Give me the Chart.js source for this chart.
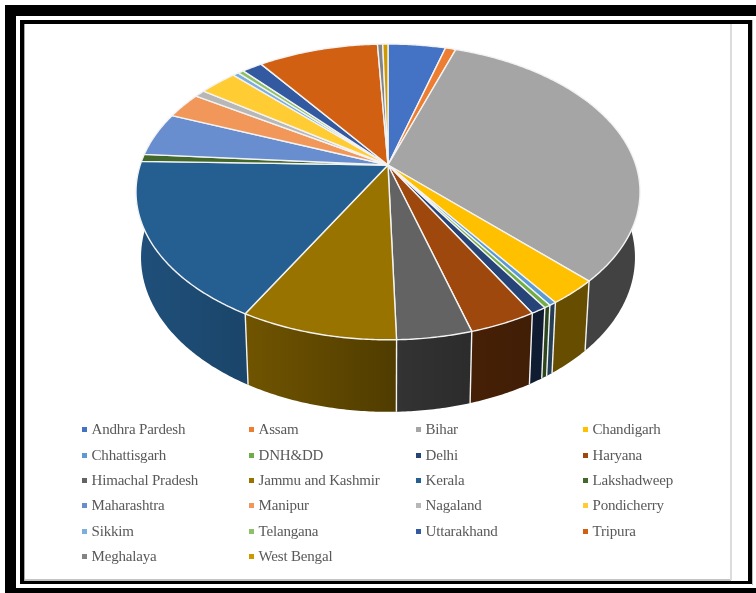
<!DOCTYPE html>
<html>
<head>
<meta charset="utf-8">
<style>
  html, body { margin: 0; padding: 0; background: #fff; width: 756px; height: 593px; overflow: hidden; }
  .bar { position: absolute; }
  canvas { position: absolute; left: 0; top: 0; display: block; }
</style>
<script src="https://cdn.jsdelivr.net/npm/chart.js@4/dist/chart.umd.min.js"></script>
</head>
<body>
<!-- outer and inner page frames -->
<div class="bar" style="left:5px;top:5px;width:751px;height:11px;background:#000"></div>
<div class="bar" style="left:5px;top:5px;width:11px;height:588px;background:#000"></div>
<div class="bar" style="left:5px;top:588px;width:751px;height:5px;background:#000"></div>
<div class="bar" style="left:20px;top:20px;width:732px;height:4px;background:#000"></div>
<div class="bar" style="left:20px;top:20px;width:4px;height:564px;background:#000"></div>
<div class="bar" style="left:20px;top:581px;width:732px;height:3px;background:#000"></div>
<div class="bar" style="left:748px;top:20px;width:4px;height:564px;background:#000"></div>
<div class="bar" style="left:752px;top:20px;width:1px;height:565px;background:#bdbdbd"></div>
<div class="bar" style="left:24px;top:24px;width:1px;height:557px;background:#a8a8a8"></div>
<div class="bar" style="left:25px;top:579px;width:706px;height:2px;background:#c4c4c4"></div>
<div class="bar" style="left:730px;top:24px;width:1.5px;height:556px;background:#dcdcdc"></div>
<canvas id="pie" width="756" height="593"></canvas>
<script>
const categories = [
  'Andhra Pardesh', 'Assam', 'Bihar', 'Chandigarh',
  'Chhattisgarh', 'DNH&DD', 'Delhi', 'Haryana',
  'Himachal Pradesh', 'Jammu and Kashmir', 'Kerala', 'Lakshadweep',
  'Maharashtra', 'Manipur', 'Nagaland', 'Pondicherry',
  'Sikkim', 'Telangana', 'Uttarakhand', 'Tripura',
  'Meghalaya', 'West Bengal'
];
const shares = [
  4.4, 0.8, 32.3, 2.75,
  0.4, 0.35, 0.85, 3.65,
  4.05, 8.5, 17.35, 0.8,
  4.8, 2.85, 0.8, 2.9,
  0.45, 0.45, 1.55, 9.2,
  0.4, 0.4
];
const sliceColours = [
  '#4472C4', '#ED7D31', '#A5A5A5', '#FFC000',
  '#5B9BD5', '#70AD47', '#264478', '#9E480E',
  '#636363', '#997300', '#255E91', '#43682B',
  '#698ED0', '#F1975A', '#B7B7B7', '#FFCD33',
  '#7CAFDD', '#8CC168', '#335AA1', '#D26012',
  '#848484', '#CC9A00'
];

// Tilted-disc projection of the pie
const DISC_R = 247.8, DISC_H = 143, PERSPECTIVE = 0.182;
const WALL_X_SCALE = 0.98, WALL_BASE = 64, WALL_SLOPE = 8;
const EDGE = '#f3f3f3';

// Legend grid
const LEGEND_COL_X = [82, 249, 416, 583];
const LEGEND_ROW_Y = [429, 455, 480, 505, 531, 556];
const LEGEND_FONT = '15px "Liberation Serif"';
const LEGEND_TRACKING = '-0.18px';

// Wall brightness across the width of the pie: [position, factor]
const WALL_SHADE = [[0, .85], [.217, .73], [.516, .52], [.66, .44], [.82, .40], [1, .40]];

function topPoint(cx, cy, a) {
  const u = Math.sin(a), v = -Math.cos(a), d = 1 - PERSPECTIVE * v;
  return { x: cx + DISC_R * u / d, y: cy + DISC_H * v / d, v };
}
function basePoint(cx, cy, a) {
  const p = topPoint(cx, cy, a);
  return { x: cx + (p.x - cx) * WALL_X_SCALE, y: p.y + WALL_BASE + WALL_SLOPE * p.v };
}
function shaded(hex, f) {
  const n = parseInt(hex.slice(1), 16);
  const c = [n >> 16 & 255, n >> 8 & 255, n & 255].map(ch => Math.round(ch * f));
  return `rgb(${c[0]},${c[1]},${c[2]})`;
}
function arcSamples(a0, a1) {
  const n = Math.max(2, Math.ceil(Math.abs(a1 - a0) / 0.01));
  return Array.from({ length: n + 1 }, (_, i) => a0 + (a1 - a0) * i / n);
}

const pie3d = {
  id: 'pie3d',
  // The arcs are laid out by the pie controller and painted here in projection.
  beforeDatasetsDraw(chart) {
    const ctx = chart.ctx;
    const arcs = chart.getDatasetMeta(0).data;
    const cx = arcs[0].x, cy = arcs[0].y;
    const frontA = Math.PI / 2, frontB = Math.PI * 1.5;

    ctx.save();
    ctx.lineJoin = 'round';

    // Side walls on the near half of the disc
    arcs.forEach((arc, i) => {
      const s = arc.startAngle + Math.PI / 2, e = arc.endAngle + Math.PI / 2;
      const a0 = Math.max(s, frontA), a1 = Math.min(e, frontB);
      if (a1 <= a0) return;
      const g = ctx.createLinearGradient(cx - 252, 0, cx + 252, 0);
      WALL_SHADE.forEach(([pos, f]) => g.addColorStop(pos, shaded(sliceColours[i], f)));
      const samples = arcSamples(a0, a1);
      ctx.beginPath();
      samples.forEach((a, k) => {
        const p = topPoint(cx, cy, a);
        k ? ctx.lineTo(p.x, p.y) : ctx.moveTo(p.x, p.y);
      });
      samples.slice().reverse().forEach(a => {
        const p = basePoint(cx, cy, a);
        ctx.lineTo(p.x, p.y);
      });
      ctx.closePath();
      ctx.fillStyle = g;
      ctx.fill();
    });

    // Vertical seams between neighbouring walls
    ctx.strokeStyle = EDGE;
    ctx.lineWidth = 1.4;
    arcs.forEach(arc => {
      const a = arc.endAngle + Math.PI / 2;
      if (a <= frontA || a >= frontB) return;
      const p = topPoint(cx, cy, a), q = basePoint(cx, cy, a);
      ctx.beginPath();
      ctx.moveTo(p.x, p.y);
      ctx.lineTo(q.x, q.y);
      ctx.stroke();
    });

    // Top face
    arcs.forEach((arc, i) => {
      const s = arc.startAngle + Math.PI / 2, e = arc.endAngle + Math.PI / 2;
      ctx.beginPath();
      ctx.moveTo(cx, cy);
      arcSamples(s, e).forEach(a => {
        const p = topPoint(cx, cy, a);
        ctx.lineTo(p.x, p.y);
      });
      ctx.closePath();
      ctx.fillStyle = sliceColours[i];
      ctx.fill();
      ctx.stroke();
    });
    ctx.restore();
    return false;
  },
  // Four-column legend below the pie
  afterDraw(chart) {
    const ctx = chart.ctx;
    ctx.save();
    ctx.font = LEGEND_FONT;
    ctx.letterSpacing = LEGEND_TRACKING;
    ctx.textBaseline = 'middle';
    ctx.textAlign = 'left';
    chart.data.labels.forEach((label, i) => {
      const x = LEGEND_COL_X[i % 4], y = LEGEND_ROW_Y[Math.floor(i / 4)];
      ctx.fillStyle = sliceColours[i];
      ctx.fillRect(x, y - 2, 5, 5);
      ctx.fillStyle = '#595959';
      ctx.fillText(label, x + 9.5, y + 1.5);
    });
    ctx.restore();
  }
};

new Chart(document.getElementById('pie'), {
  type: 'pie',
  data: {
    labels: categories,
    datasets: [{ data: shares, backgroundColor: sliceColours, borderWidth: 0 }]
  },
  options: {
    responsive: false,
    animation: false,
    rotation: 0,
    layout: { padding: { left: 136, right: 116, top: 0, bottom: 263 } },
    plugins: { legend: { display: false }, tooltip: { enabled: false } }
  },
  plugins: [pie3d]
});
</script>
</body>
</html>
